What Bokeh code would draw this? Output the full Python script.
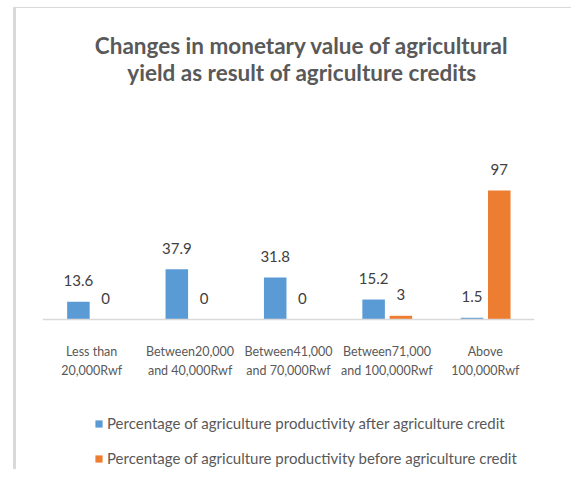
from bokeh.plotting import figure
from bokeh.models import (FactorRange, Range1d, ColumnDataSource, Legend, LegendItem, Label)
from bokeh.transform import dodge
from bokeh.core.properties import value
from bokeh.embed import file_html
from bokeh.resources import INLINE

categories = ["Less than\n20,000Rwf", "Between20,000\nand 40,000Rwf",
              "Between41,000\nand 70,000Rwf", "Between71,000\nand 100,000Rwf",
              "Above\n100,000Rwf"]
after_credit = [13.6, 37.9, 31.8, 15.2, 1.5]
before_credit = [0, 0, 0, 3, 97]
after_labels = ["13.6", "37.9", "31.8", "15.2", "1.5"]
before_labels = ["0", "0", "0", "3", "97"]
series_names = ["Percentage of agriculture productivity after agriculture credit",
                "Percentage of agriculture productivity before agriculture credit"]
title_lines = ["Changes in monetary value of agricultural",
               "yield as result of agriculture credits"]

FONT = "Lato"
BLUE = "#5B9BD5"
ORANGE = "#ED7D31"
GREY = "#595959"
EDGE = "#d9d9d9"

src = ColumnDataSource(dict(cat=categories, after=after_credit, before=before_credit,
                            after_lbl=after_labels, before_lbl=before_labels))

p = figure(width=571, height=469, x_range=FactorRange(*categories, range_padding=0),
           y_range=Range1d(-112.3, 239.5), y_axis_type=None, title=None,
           output_backend="svg", toolbar_location=None,
           min_border_left=42, min_border_right=37, min_border_top=0, min_border_bottom=0)
p.grid.visible = False
p.outline_line_color = None
p.border_fill_alpha = 0
p.background_fill_alpha = 0
p.styles = {
    "background-image": f"linear-gradient({EDGE},{EDGE}), linear-gradient({EDGE},{EDGE})",
    "background-size": "3px 100%, 100% 1px",
    "background-position": "13px 7px, 13px 7px",
    "background-repeat": "no-repeat",
}

r1 = p.vbar(x=dodge("cat", -0.135, range=p.x_range), top="after", width=0.229,
            source=src, fill_color=BLUE, line_color=None)
r2 = p.vbar(x=dodge("cat", 0.142, range=p.x_range), top="before", width=0.229,
            source=src, fill_color=ORANGE, line_color=None)

for off, col, lbl in [(-0.135, "after", "after_lbl"), (0.142, "before", "before_lbl")]:
    p.text(x=dodge("cat", off, range=p.x_range), y=col, text=lbl, source=src,
           text_align="center", text_baseline="alphabetic", y_offset=-21,
           text_font=value(FONT), text_font_size="15px", text_color="#404040")

ax = p.xaxis[0]
ax.fixed_location = 0
ax.axis_line_color = EDGE
ax.axis_line_width = 1.5
ax.major_tick_line_color = None
ax.minor_tick_line_color = None
ax.major_label_text_font = FONT
ax.major_label_text_font_size = "12.5px"
ax.major_label_text_color = GREY
ax.major_label_text_line_height = 1.25
ax.major_label_standoff = 18

for i, ty in enumerate([45, 72]):
    p.add_layout(Label(x=301.5, y=ty, x_units="canvas", y_units="canvas",
                       text=title_lines[i], text_align="center", text_baseline="middle",
                       text_font=FONT, text_font_size="22.5px", text_font_style="bold",
                       text_color=GREY))

legend = Legend(items=[LegendItem(label=series_names[0], renderers=[r1]),
                       LegendItem(label=series_names[1], renderers=[r2])],
                location=(52, 1), orientation="vertical",
                label_text_font=FONT, label_text_font_size="15px", label_text_color=GREY,
                glyph_width=9, glyph_height=9, label_standoff=4, spacing=15,
                label_height=20, padding=0, margin=0,
                border_line_color=None, background_fill_alpha=0)
p.add_layout(legend, "center")

open("out.html", "w").write(file_html(p, INLINE))
